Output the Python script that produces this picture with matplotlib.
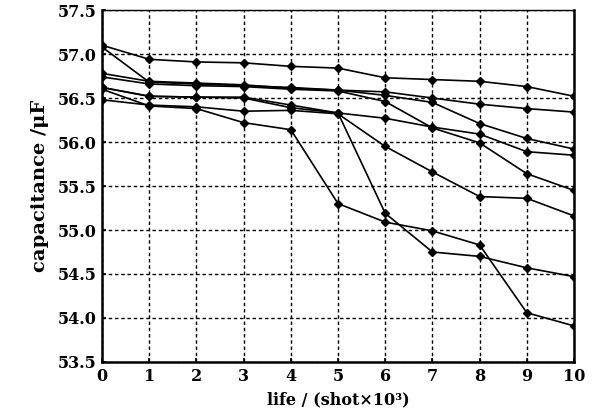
import matplotlib
matplotlib.use('Agg')
import matplotlib.pyplot as plt

plt.rcParams['font.family'] = ['DejaVu Serif']
plt.rcParams['font.weight'] = 'bold'

life = [0, 1, 2, 3, 4, 5, 6, 7, 8, 9, 10]

cap_a = [57.10, 56.94, 56.91, 56.90, 56.86, 56.84, 56.73, 56.71, 56.69, 56.63, 56.52]
cap_b = [57.08, 56.68, 56.66, 56.64, 56.62, 56.59, 56.57, 56.50, 56.43, 56.38, 56.34]
cap_c = [56.78, 56.69, 56.67, 56.65, 56.61, 56.59, 56.53, 56.45, 56.21, 56.04, 55.92]
cap_d = [56.74, 56.66, 56.64, 56.63, 56.60, 56.58, 56.46, 56.16, 55.99, 55.64, 55.45]
cap_e = [56.62, 56.52, 56.51, 56.51, 56.42, 56.33, 56.27, 56.17, 56.09, 55.89, 55.85]
cap_f = [56.48, 56.42, 56.40, 56.35, 56.36, 56.32, 55.95, 55.66, 55.38, 55.36, 55.16]
cap_g = [56.60, 56.41, 56.38, 56.22, 56.14, 55.30, 55.09, 54.99, 54.83, 54.06, 53.91]
cap_h = [56.62, 56.52, 56.51, 56.50, 56.39, 56.33, 55.19, 54.75, 54.70, 54.57, 54.47]

y_ticks = [53.5, 54.0, 54.5, 55.0, 55.5, 56.0, 56.5, 57.0, 57.5]

fig = plt.figure(figsize=(5.98, 4.18), dpi=100)
ax = fig.add_axes([0.1706, 0.134, 0.7893, 0.842])

for cap in [cap_a, cap_b, cap_c, cap_d, cap_e, cap_f, cap_g, cap_h]:
    ax.plot(life, cap, color='black', lw=1.2, marker='D', markersize=3.8)

ax.set_xlim(0, 10)
ax.set_ylim(53.5, 57.5)
ax.set_xticks(life)
ax.set_yticks(y_ticks)
ax.set_yticklabels(['%.1f' % v for v in y_ticks])
ax.grid(True, color='black', linestyle=(0, (2.5, 2)), linewidth=1.0)
ax.tick_params(direction='in', length=3, labelsize=11.5, width=1.2, pad=4)

for s in ['left', 'bottom', 'right']:
    ax.spines[s].set_linewidth(1.8)
ax.spines['top'].set_linewidth(1.0)

ax.set_xlabel('life / (shot\u00d710\u00b3)', fontsize=11.5, fontweight='bold', labelpad=5)
ax.set_ylabel('capacitance /\u03bcF', fontsize=14, fontweight='bold', labelpad=6)

fig.savefig('out.png', dpi=100)
